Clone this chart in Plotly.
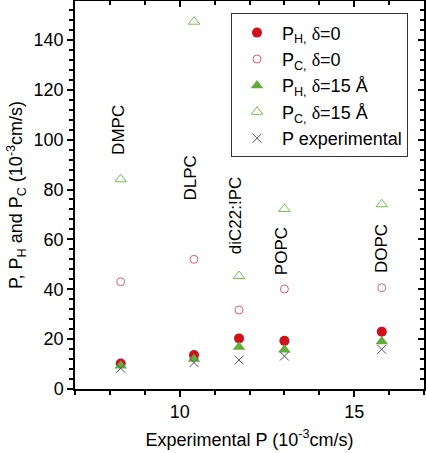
import plotly.graph_objects as go

lipids = ["DMPC", "DLPC", "diC22:!PC", "POPC", "DOPC"]
exp_p = [8.31, 10.41, 11.70, 13.00, 15.79]
ph_d0 = [10.2, 13.6, 20.3, 19.3, 23.0]
pc_d0 = [43.0, 52.0, 31.7, 40.1, 40.6]
ph_d15 = [9.3, 12.0, 16.8, 15.7, 19.0]
pc_d15 = [84.1, 147.3, 45.3, 72.2, 74.1]
p_exp = [8.3, 10.6, 11.6, 13.2, 15.9]
label_x = [8.26, 10.31, 11.62, 12.94, 15.80]
label_y = [103.9, 84.6, 69.4, 55.4, 56.2]

FONT = "Liberation Sans, Arial, sans-serif"
D = '<span style="font-family:Liberation Serif, Times New Roman, serif">δ</span>'

fig = go.Figure()
fig.add_trace(go.Scatter(x=exp_p, y=ph_d0, mode="markers", name=f"P<sub>H,</sub> {D}=0",
                         marker=dict(symbol="circle", size=10, color="#d0101c")))
fig.add_trace(go.Scatter(x=exp_p, y=pc_d0, mode="markers", name=f"P<sub>C,</sub> {D}=0",
                         marker=dict(symbol="circle-open", size=8, color="#e0606c", line=dict(width=1))))
fig.add_trace(go.Scatter(x=exp_p, y=ph_d15, mode="markers", name=f"P<sub>H,</sub> {D}=15 Å",
                         marker=dict(symbol="triangle-up", size=11, color="#64ad3c")))
fig.add_trace(go.Scatter(x=exp_p, y=pc_d15, mode="markers", name=f"P<sub>C,</sub> {D}=15 Å",
                         marker=dict(symbol="triangle-up-open", size=10, color="#74bf50", line=dict(width=1))))
fig.add_trace(go.Scatter(x=exp_p, y=p_exp, mode="markers", name="P experimental",
                         marker=dict(symbol="x-thin-open", size=9, color="#555555", line=dict(width=1))))

for name, lx, ly in zip(lipids, label_x, label_y):
    fig.add_annotation(x=lx, y=ly, text=name, textangle=-90, showarrow=False,
                       font=dict(size=17, color="black", family=FONT))

axis_common = dict(showline=True, linecolor="black", linewidth=1.5, showgrid=False, zeroline=False,
                   ticks="outside", tickcolor="black", tickwidth=1.5, ticklen=6,
                   tickfont=dict(size=18, color="black", family=FONT))

fig.update_layout(
    width=426, height=453,
    margin=dict(l=75, r=2, t=1, b=64),
    paper_bgcolor="white", plot_bgcolor="white",
    font=dict(family=FONT, color="black"),
    showlegend=True,
    legend=dict(x=0.447, y=0.968, xanchor="left", yanchor="top",
                bordercolor="#333333", borderwidth=1, bgcolor="white",
                font=dict(size=18, color="black", family=FONT),
                itemwidth=40),
    xaxis=dict(range=[7, 17], dtick=5, tick0=0,
               minor=dict(dtick=1, ticklen=4, tickcolor="black", tickwidth=1.5, ticks="outside"),
               title=dict(text="Experimental P (10<sup>-3</sup>cm/s)", font=dict(size=18), standoff=12),
               **axis_common),
    yaxis=dict(range=[0, 155.6], dtick=20, tick0=0,
               minor=dict(dtick=4, ticklen=4, tickcolor="black", tickwidth=1.5, ticks="outside"),
               title=dict(text="P, P<sub>H</sub> and P<sub>C</sub> (10<sup>-3</sup>cm/s)", font=dict(size=18), standoff=6),
               **axis_common),
    xaxis2=dict(overlaying="x", side="top", matches="x", range=[7, 17], showline=True, linecolor="black",
                linewidth=1.5, ticks="inside", tickcolor="black", tickwidth=1.5, ticklen=6,
                dtick=5, tick0=0, showticklabels=False, showgrid=False, zeroline=False,
                minor=dict(dtick=1, ticklen=4, ticks="inside", tickcolor="black", tickwidth=1.5)),
    yaxis2=dict(overlaying="y", side="right", matches="y", range=[0, 155.6], showline=True, linecolor="black",
                linewidth=1.5, ticks="inside", tickcolor="black", tickwidth=1.5, ticklen=6,
                dtick=20, tick0=0, showticklabels=False, showgrid=False, zeroline=False,
                minor=dict(dtick=4, ticklen=4, ticks="inside", tickcolor="black", tickwidth=1.5)),
)
fig.add_trace(go.Scatter(x=[None], y=[None], xaxis="x2", yaxis="y2", showlegend=False, hoverinfo="skip"))

fig.write_html("out.html", config={"displayModeBar": False},
               post_script="document.body.style.margin='0';document.body.style.overflow='hidden';")
